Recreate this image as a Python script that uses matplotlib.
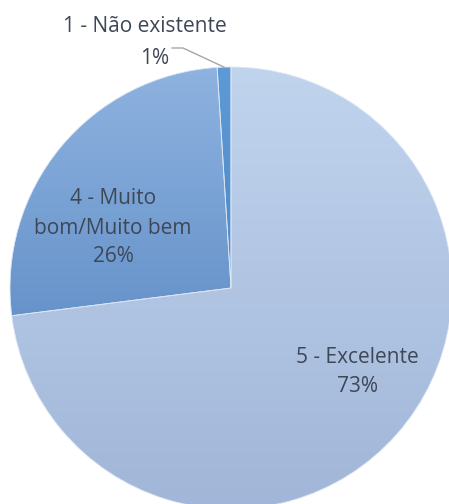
import numpy as np
import matplotlib
matplotlib.use("Agg")
import matplotlib.pyplot as plt
from matplotlib.colors import LinearSegmentedColormap

# data (clockwise from 12 o'clock)
categories = ["5 - Excelente", "4 - Muito\nbom/Muito bem", "1 - Não existente"]
shares = [73, 26, 1]
pct_labels = ["73%", "26%", "1%"]

# gradient (top colour, bottom colour) of each slice
grad_colors = [("#C1D4EE", "#A1B6D8"), ("#8FB3E0", "#6693CA"), ("#5E9AD6", "#4F89C8")]

plt.rcParams['font.family'] = ['Open Sans', 'DejaVu Sans']
fig = plt.figure(figsize=(4.49, 5.04), dpi=100)
ax = fig.add_axes([0, 0, 1, 1])

R = 221.0  # pixel radius
cx, cy = 231.0, 288.0  # pixel centre
ax.set_aspect('equal')
ax.axis('off')

wedges, _ = ax.pie(shares, startangle=90, counterclock=False, radius=1.0,
                   wedgeprops=dict(linewidth=0.6, edgecolor="#DCE6F4"))

# gradient fill, clipped to each slice
for w, (c_top, c_bot) in zip(wedges, grad_colors):
    w.set_facecolor("none")
    ext = w.get_path().get_extents()
    cmap = LinearSegmentedColormap.from_list("g", [c_bot, c_top])
    grad = np.linspace(0, 1, 256).reshape(-1, 1)
    im = ax.imshow(grad, cmap=cmap, origin="lower", aspect="auto",
                   extent=(ext.x0, ext.x1, ext.y0, ext.y1), zorder=1)
    im.set_clip_path(w)
    w.set_zorder(2)

ax.set_xlim(-cx / R, (449 - cx) / R)
ax.set_ylim(-(504 - cy) / R, cy / R)

def px(x, y):
    return (x - cx) / R, (cy - y) / R

txt_kw = dict(ha="center", va="center", color="#3E4756", fontsize=15,
              linespacing=1.5, zorder=5)

# labels inside the two big slices
ax.text(*px(357, 372), categories[0] + "\n" + pct_labels[0], **txt_kw)
ax.text(*px(113, 228), categories[1] + "\n" + pct_labels[1], **txt_kw)

# label for the small slice, outside with a leader line
ax.text(*px(145, 27), categories[2], **txt_kw)
ax.text(*px(155, 58), pct_labels[2], **txt_kw)
w = wedges[2]
mid = np.radians((w.theta1 + w.theta2) / 2)
lx, ly = zip(px(172, 48), px(183, 48))
ax.plot(list(lx) + [np.cos(mid)], list(ly) + [np.sin(mid)],
        color="#A6A6A6", lw=1.0, zorder=5)

fig.savefig("out.png", dpi=100)
